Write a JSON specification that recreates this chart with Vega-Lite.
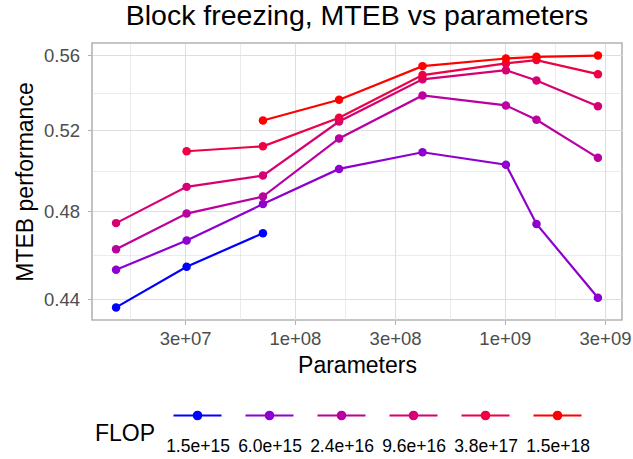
{
  "$schema": "https://vega.github.io/schema/vega-lite/v6.json",
  "width": 530,
  "height": 277,
  "autosize": {"type": "none"},
  "padding": {"left": 92, "top": 43, "right": 11, "bottom": 139},
  "background": "white",
  "title": {"text": "Block freezing, MTEB vs parameters", "fontSize": 28.5, "font": "Liberation Sans", "fontWeight": "normal", "color": "black", "anchor": "middle", "baseline": "alphabetic", "offset": -10},
  "config": {
    "font": "Liberation Sans",
    "view": {"stroke": "#B3B3B3", "strokeWidth": 1.6}
  },
  "data": {"values": [
    {"flop": "1.5e+15", "params": 14067712, "mteb": 0.4365},
    {"flop": "1.5e+15", "params": 30494720, "mteb": 0.4544},
    {"flop": "1.5e+15", "params": 70426624, "mteb": 0.4697},
    {"flop": "6.0e+15", "params": 14067712, "mteb": 0.4530},
    {"flop": "6.0e+15", "params": 30494720, "mteb": 0.4663},
    {"flop": "6.0e+15", "params": 70426624, "mteb": 0.4834},
    {"flop": "6.0e+15", "params": 162322944, "mteb": 0.5005},
    {"flop": "6.0e+15", "params": 405334016, "mteb": 0.5088},
    {"flop": "6.0e+15", "params": 1011781632, "mteb": 0.5026},
    {"flop": "6.0e+15", "params": 1414647808, "mteb": 0.4740},
    {"flop": "6.0e+15", "params": 2775208960, "mteb": 0.4407},
    {"flop": "2.4e+16", "params": 14067712, "mteb": 0.4623},
    {"flop": "2.4e+16", "params": 30494720, "mteb": 0.4789},
    {"flop": "2.4e+16", "params": 70426624, "mteb": 0.4870},
    {"flop": "2.4e+16", "params": 162322944, "mteb": 0.5158},
    {"flop": "2.4e+16", "params": 405334016, "mteb": 0.5382},
    {"flop": "2.4e+16", "params": 1011781632, "mteb": 0.5329},
    {"flop": "2.4e+16", "params": 1414647808, "mteb": 0.5254},
    {"flop": "2.4e+16", "params": 2775208960, "mteb": 0.5060},
    {"flop": "9.6e+16", "params": 14067712, "mteb": 0.4744},
    {"flop": "9.6e+16", "params": 30494720, "mteb": 0.4917},
    {"flop": "9.6e+16", "params": 70426624, "mteb": 0.4972},
    {"flop": "9.6e+16", "params": 162322944, "mteb": 0.5245},
    {"flop": "9.6e+16", "params": 405334016, "mteb": 0.5468},
    {"flop": "9.6e+16", "params": 1011781632, "mteb": 0.5518},
    {"flop": "9.6e+16", "params": 1414647808, "mteb": 0.5462},
    {"flop": "9.6e+16", "params": 2775208960, "mteb": 0.5325},
    {"flop": "3.8e+17", "params": 30494720, "mteb": 0.5093},
    {"flop": "3.8e+17", "params": 70426624, "mteb": 0.5118},
    {"flop": "3.8e+17", "params": 162322944, "mteb": 0.5264},
    {"flop": "3.8e+17", "params": 405334016, "mteb": 0.5491},
    {"flop": "3.8e+17", "params": 1011781632, "mteb": 0.5555},
    {"flop": "3.8e+17", "params": 1414647808, "mteb": 0.5573},
    {"flop": "3.8e+17", "params": 2775208960, "mteb": 0.5496},
    {"flop": "1.5e+18", "params": 70426624, "mteb": 0.5250},
    {"flop": "1.5e+18", "params": 162322944, "mteb": 0.5359},
    {"flop": "1.5e+18", "params": 405334016, "mteb": 0.5540},
    {"flop": "1.5e+18", "params": 1011781632, "mteb": 0.5582},
    {"flop": "1.5e+18", "params": 1414647808, "mteb": 0.5591},
    {"flop": "1.5e+18", "params": 2775208960, "mteb": 0.5598}
  ]},
  "encoding": {
    "x": {
      "field": "params", "type": "quantitative",
      "scale": {"type": "log", "domain": [10803000, 3614200000], "nice": false},
      "axis": {
        "title": "Parameters",
        "values": [16430000, 30000000, 54770000, 100000000, 173200000, 300000000, 547700000, 1000000000, 1732000000, 3000000000],
        "labelExpr": "datum.value == 30000000 ? '3e+07' : datum.value == 100000000 ? '1e+08' : datum.value == 300000000 ? '3e+08' : datum.value == 1000000000 ? '1e+09' : datum.value == 3000000000 ? '3e+09' : ''",
        "labelOverlap": false, "labelFlush": false,
        "grid": true, "gridColor": "#DEDEDE",
        "gridWidth": {"condition": {"test": "indexof([30000000,100000000,300000000,1000000000,3000000000], datum.value) < 0", "value": 0.6}, "value": 1.1},
        "tickOpacity": {"condition": {"test": "indexof([30000000,100000000,300000000,1000000000,3000000000], datum.value) < 0", "value": 0}, "value": 1},
        "tickColor": "#B3B3B3", "tickSize": 4.5, "tickWidth": 1.1,
        "domain": false,
        "labelFontSize": 18.5, "labelColor": "#4D4D4D", "labelPadding": 5,
        "titleFontSize": 23, "titleFontWeight": "normal", "titleColor": "black", "titlePadding": 6
      }
    },
    "y": {
      "field": "mteb", "type": "quantitative",
      "scale": {"type": "log", "domain": [0.4311, 0.5668], "nice": false, "zero": false},
      "axis": {
        "title": "MTEB performance",
        "values": [0.44, 0.45956, 0.48, 0.4996, 0.52, 0.53963, 0.56],
        "labelExpr": "indexof([0.44,0.48,0.52,0.56], datum.value) >= 0 ? format(datum.value, '.2f') : ''",
        "labelOverlap": false, "labelFlush": false,
        "grid": true, "gridColor": "#DEDEDE",
        "gridWidth": {"condition": {"test": "indexof([0.44,0.48,0.52,0.56], datum.value) < 0", "value": 0.6}, "value": 1.1},
        "tickOpacity": {"condition": {"test": "indexof([0.44,0.48,0.52,0.56], datum.value) < 0", "value": 0}, "value": 1},
        "tickColor": "#B3B3B3", "tickSize": 4.5, "tickWidth": 1.1,
        "domain": false,
        "labelFontSize": 18.5, "labelColor": "#4D4D4D", "labelPadding": 8,
        "titleFontSize": 23, "titleFontWeight": "normal", "titleColor": "black", "titlePadding": 6
      }
    },
    "color": {
      "field": "flop", "type": "nominal",
      "scale": {"domain": ["1.5e+15", "6.0e+15", "2.4e+16", "9.6e+16", "3.8e+17", "1.5e+18"], "range": ["#0000FF", "#8D00D0", "#BA009F", "#D70072", "#ED0044", "#FF0000"]},
      "legend": {
        "orient": "none", "legendX": 3, "legendY": 347, "direction": "horizontal",
        "title": "FLOP", "titleOrient": "left", "titleFontSize": 23, "titleFontWeight": "normal", "titleColor": "black",
        "titleBaseline": "middle", "titleAnchor": "middle", "titlePadding": 16,
        "symbolType": "M-1,0L1,0M-0.155,0A0.155,0.155,0,1,1,0.155,0A0.155,0.155,0,1,1,-0.155,0Z",
        "symbolSize": 2304, "symbolStrokeWidth": 2.2, "symbolOpacity": 1,
        "labelFontSize": 17.5, "labelColor": "black", "labelAlign": "center", "labelOffset": -25,
        "columnPadding": 8, "padding": 0,
        "encode": {
          "title": {"update": {"dy": {"value": 11}}},
          "labels": {"update": {"dy": {"value": 31}}},
          "symbols": {"update": {"fill": {"scale": "color", "field": "value"}, "stroke": {"scale": "color", "field": "value"}, "opacity": {"value": 1}}}
        }
      }
    }
  },
  "layer": [
    {"mark": {"type": "line", "strokeWidth": 2.2}},
    {"mark": {"type": "point", "filled": true, "size": 72, "opacity": 1}}
  ]
}
